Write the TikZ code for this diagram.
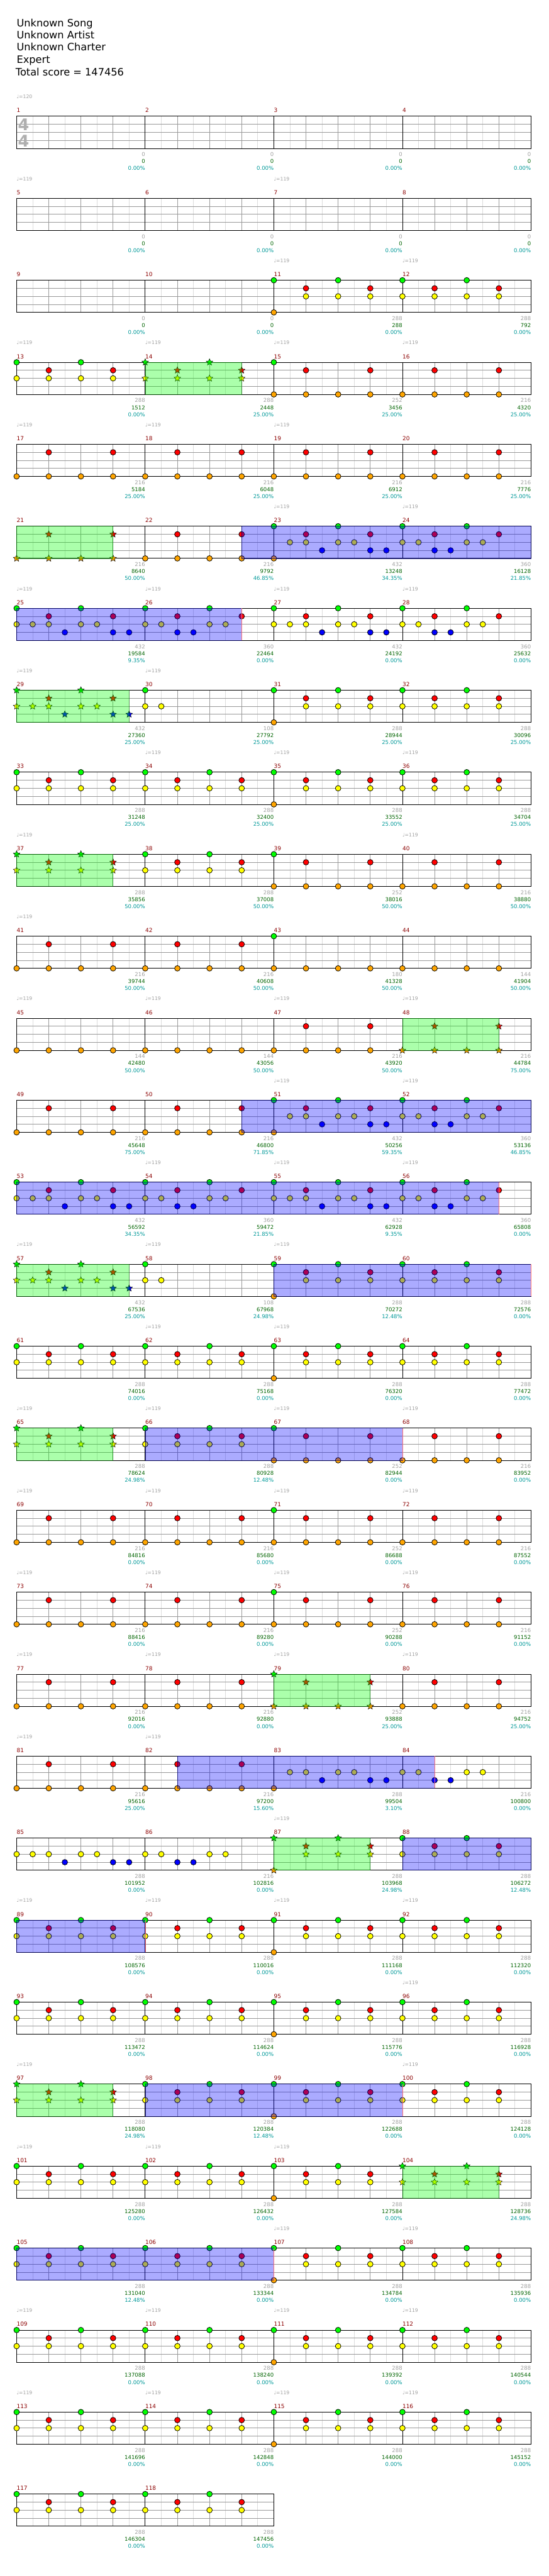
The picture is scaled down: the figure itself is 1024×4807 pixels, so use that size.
\documentclass[tikz,border=0pt]{standalone}
\usepackage{fontspec}
\setmainfont{DejaVu Sans}
\usepackage{tikz}
\usetikzlibrary{shapes.geometric}
\usepackage{xcolor}
\definecolor{fretG}{RGB}{0,255,0}
\definecolor{fretR}{RGB}{255,0,0}
\definecolor{fretY}{RGB}{255,255,0}
\definecolor{fretB}{RGB}{0,0,255}
\definecolor{fretO}{RGB}{255,165,0}
\definecolor{barred}{RGB}{140,0,0}
\definecolor{basegrey}{RGB}{160,160,160}
\definecolor{totgreen}{RGB}{0,100,0}
\definecolor{pctteal}{RGB}{0,153,153}
\definecolor{gridlite}{RGB}{220,220,220}
\definecolor{griddark}{RGB}{153,153,153}
\definecolor{sigrey}{RGB}{175,175,175}
\definecolor{spedge}{RGB}{0,110,0}
\definecolor{actedge}{RGB}{0,0,110}
\tikzset{
  gem/.style={draw=black,line width=0.9pt},
  spgem/.style={star,star points=5,star point ratio=2.2,minimum size=13pt,inner sep=0pt,draw=black,line width=0.6pt},
  staff/.style={draw=black,line width=1pt},
  eighthline/.style={draw=gridlite,line width=0.9pt},
  quarterline/.style={draw=griddark,line width=0.9pt},
  spzone/.style={fill=fretG,fill opacity=0.33,draw=spedge,draw opacity=0.6,line width=0.9pt},
  actzone/.style={fill=fretB,fill opacity=0.33,draw=actedge,draw opacity=0.7,line width=0.9pt},
  actend/.style={draw=red!55,line width=0.8pt}
}
% lane offsets (px below staff top)
\def\laneG{0}\def\laneR{15}\def\laneY{30}\def\laneB{45}\def\laneO{60}
% note patterns: fret/eighth
\def\patN{}
\def\patA{R/2,R/6,O/0,O/2,O/4,O/6}
\def\patB{G/0,R/2,R/6,O/0,O/2,O/4,O/6}
\def\patC{G/0,G/4,R/2,R/6,Y/0,Y/1,Y/2,Y/4,Y/5,B/3,B/6,B/7}
\def\patP{G/0,G/4,R/2,R/6,Y/1,Y/2,Y/4,Y/5,B/3,B/6,B/7,O/0}
\def\patD{G/0,G/4,R/2,R/6,Y/0,Y/1,Y/4,Y/5,B/2,B/3}
\def\patE{G/0,G/4,R/2,R/6,Y/0,Y/2,Y/4,Y/6}
\def\patF{G/0,G/4,R/2,R/6,Y/2,Y/4,Y/6,O/0}
\def\patG{G/0,O/0,O/2,O/4,O/6}
\def\patH{O/0,O/2,O/4,O/6}
\def\patI{Y/1,Y/2,Y/4,Y/5,B/3,B/6,B/7,O/0}
\def\patJ{Y/0,Y/1,Y/4,Y/5,B/2,B/3}
\def\patK{Y/0,Y/1,Y/2,Y/4,Y/5,B/3,B/6,B/7}
\def\patL{G/0,Y/0,Y/1}

\begin{document}
\begin{tikzpicture}[
  x=1pt,y=-1pt,
  header/.style={anchor=base west,inner sep=0pt,font=\fontsize{19}{23}\selectfont},
  barno/.style={anchor=base west,inner sep=0pt,font=\fontsize{10.5}{12}\selectfont,text=barred},
  tempo/.style={anchor=base west,inner sep=0pt,font=\fontsize{9}{11}\selectfont,text=basegrey},
  basescore/.style={anchor=base east,inner sep=0pt,font=\fontsize{10}{12}\selectfont,text=basegrey},
  totscore/.style={anchor=base east,inner sep=0pt,font=\fontsize{10}{12}\selectfont,text=totgreen},
  pctscore/.style={anchor=base east,inner sep=0pt,font=\fontsize{10}{12}\selectfont,text=pctteal},
  timesig/.style={inner sep=0pt,font=\fontsize{30}{30}\selectfont\bfseries,text=sigrey}
]
  \fill[white] (0,0) rectangle (1024,4807);
  \useasboundingbox (0,0) rectangle (1024,4807);

  % --- Header ---
  \node[header] (song)    at (31,50)  {Unknown Song};
  \node[header] (artist)  at (31,72)  {Unknown Artist};
  \node[header] (charter) at (31,95)  {Unknown Charter};
  \node[header] (level)   at (31,118) {Expert};
  \node[header] (total)   at (29,141) {Total score = 147456};

  % --- Measures: number/pattern/star power end/base/total/percent ---
  \foreach \mm/\patname/\spend/\basepts/\totpts/\pctval in {
    1/N/0/0/0/0.00, 2/N/0/0/0/0.00, 3/N/0/0/0/0.00, 4/N/0/0/0/0.00,
    5/N/0/0/0/0.00, 6/N/0/0/0/0.00, 7/N/0/0/0/0.00, 8/N/0/0/0/0.00,
    9/N/0/0/0/0.00, 10/N/0/0/0/0.00, 11/F/0/288/288/0.00, 12/E/0/288/792/0.00,
    13/E/0/288/1512/0.00, 14/E/6/288/2448/25.00, 15/B/0/252/3456/25.00, 16/A/0/216/4320/25.00,
    17/A/0/216/5184/25.00, 18/A/0/216/6048/25.00, 19/A/0/216/6912/25.00, 20/A/0/216/7776/25.00,
    21/A/6/216/8640/50.00, 22/A/0/216/9792/46.85, 23/P/0/432/13248/34.35, 24/D/0/360/16128/21.85,
    25/C/0/432/19584/9.35, 26/D/0/360/22464/0.00, 27/C/0/432/24192/0.00, 28/D/0/360/25632/0.00,
    29/C/7/432/27360/25.00, 30/L/0/108/27792/25.00, 31/F/0/288/28944/25.00, 32/E/0/288/30096/25.00,
    33/E/0/288/31248/25.00, 34/E/0/288/32400/25.00, 35/F/0/288/33552/25.00, 36/E/0/288/34704/25.00,
    37/E/6/288/35856/50.00, 38/E/0/288/37008/50.00, 39/B/0/252/38016/50.00, 40/A/0/216/38880/50.00,
    41/A/0/216/39744/50.00, 42/A/0/216/40608/50.00, 43/G/0/180/41328/50.00, 44/H/0/144/41904/50.00,
    45/H/0/144/42480/50.00, 46/H/0/144/43056/50.00, 47/A/0/216/43920/50.00, 48/A/6/216/44784/75.00,
    49/A/0/216/45648/75.00, 50/A/0/216/46800/71.85, 51/P/0/432/50256/59.35, 52/D/0/360/53136/46.85,
    53/C/0/432/56592/34.35, 54/D/0/360/59472/21.85, 55/C/0/432/62928/9.35, 56/D/0/360/65808/0.00,
    57/C/7/432/67536/25.00, 58/L/0/108/67968/24.98, 59/F/0/288/70272/12.48, 60/E/0/288/72576/0.00,
    61/E/0/288/74016/0.00, 62/E/0/288/75168/0.00, 63/F/0/288/76320/0.00, 64/E/0/288/77472/0.00,
    65/E/6/288/78624/24.98, 66/E/0/288/80928/12.48, 67/B/0/252/82944/0.00, 68/A/0/216/83952/0.00,
    69/A/0/216/84816/0.00, 70/A/0/216/85680/0.00, 71/B/0/252/86688/0.00, 72/A/0/216/87552/0.00,
    73/A/0/216/88416/0.00, 74/A/0/216/89280/0.00, 75/B/0/252/90288/0.00, 76/A/0/216/91152/0.00,
    77/A/0/216/92016/0.00, 78/A/0/216/92880/0.00, 79/B/6/252/93888/25.00, 80/A/0/216/94752/25.00,
    81/A/0/216/95616/25.00, 82/A/0/216/97200/15.60, 83/I/0/288/99504/3.10, 84/J/0/216/100800/0.00,
    85/K/0/288/101952/0.00, 86/J/0/216/102816/0.00, 87/F/6/288/103968/24.98, 88/E/0/288/106272/12.48,
    89/E/0/288/108576/0.00, 90/E/0/288/110016/0.00, 91/F/0/288/111168/0.00, 92/E/0/288/112320/0.00,
    93/E/0/288/113472/0.00, 94/E/0/288/114624/0.00, 95/F/0/288/115776/0.00, 96/E/0/288/116928/0.00,
    97/E/6/288/118080/24.98, 98/E/0/288/120384/12.48, 99/F/0/288/122688/0.00, 100/E/0/288/124128/0.00,
    101/E/0/288/125280/0.00, 102/E/0/288/126432/0.00, 103/F/0/288/127584/0.00, 104/E/6/288/128736/24.98,
    105/E/0/288/131040/12.48, 106/E/0/288/133344/0.00, 107/F/0/288/134784/0.00, 108/E/0/288/135936/0.00,
    109/E/0/288/137088/0.00, 110/E/0/288/138240/0.00, 111/F/0/288/139392/0.00, 112/E/0/288/140544/0.00,
    113/E/0/288/141696/0.00, 114/E/0/288/142848/0.00, 115/F/0/288/144000/0.00, 116/E/0/288/145152/0.00,
    117/E/0/288/146304/0.00, 118/E/0/288/147456/0.00} {
    \pgfmathtruncatemacro{\row}{(\mm-1)/4}
    \pgfmathtruncatemacro{\col}{\mm-1-4*\row}
    \pgfmathsetmacro{\mx}{31+240*\col}
    \pgfmathsetmacro{\my}{217+153*\row}
    % grid
    \foreach \p in {1,3,5,7} \draw[eighthline] (\mx+30*\p,\my) -- ++(0,60);
    \foreach \l in {15,30,45} \draw[quarterline] (\mx,\my+\l) -- ++(240,0);
    \foreach \p in {2,4,6} \draw[quarterline] (\mx+30*\p,\my) -- ++(0,60);
    \draw[staff] (\mx,\my) rectangle ++(240,60);
    % labels
    \node[barno] (bar\mm) at (\mx,\my-7) {\mm};
    \node[basescore] (base\mm) at (\mx+240,\my+75) {\basepts};
    \node[totscore] (tot\mm) at (\mx+240,\my+88) {\totpts};
    \node[pctscore] (pct\mm) at (\mx+240,\my+101) {\pctval\%};
    % notes
    \expandafter\let\expandafter\gemlist\csname pat\patname\endcsname
    \ifx\gemlist\empty\else
      \foreach \gemfret/\gempos in \gemlist {
        \edef\ly{\csname lane\gemfret\endcsname}
        \ifnum\spend>0
          \node[spgem,fill=fret\gemfret] at (\mx+30*\gempos,\my+\ly) {};
        \else
          \filldraw[gem,fill=fret\gemfret] (\mx+30*\gempos,\my+\ly) circle (5.2pt);
        \fi
      }
    \fi
    % star power phrase
    \ifnum\spend>0
      \draw[spzone] (\mx,\my) rectangle (\mx+30*\spend,\my+60);
    \fi
  }

  % --- Time signature ---
  \node[timesig] (sigtop) at (44,233) {4};
  \node[timesig] (sigbot) at (44,263) {4};

  % --- Tempo marks ---
  \node[tempo] (tempo1) at (31,184) {♩=120};
  \foreach \mm in {5,7,11,12,13,14,15,16,17,18,19,23,24,25,26,27,28,29,30,34,35,36,
    37,40,41,45,46,47,48,51,52,54,55,56,57,58,59,62,63,65,66,67,68,69,70,71,72,
    73,74,75,76,77,78,79,80,81,82,87,89,90,91,92,96,97,100,101,102,103,107,108,
    109,110,111,112,113,114,115,116} {
    \pgfmathtruncatemacro{\row}{(\mm-1)/4}
    \pgfmathtruncatemacro{\col}{\mm-1-4*\row}
    \node[tempo] (tempo\mm) at (31+240*\col,184+153*\row) {♩=119};
  }

  % --- Activation zones: start bar/eighth, end bar/eighth, closes ---
  \foreach \sm/\sa/\em/\eb/\fin in {22/6/24/8/0, 25/0/26/6/1, 50/6/52/8/0, 53/0/56/6/1,
    59/0/60/8/1, 66/0/67/8/1, 82/2/84/2/1, 88/0/88/8/0, 89/0/89/8/1, 98/0/99/8/1, 105/0/106/8/1} {
    \pgfmathtruncatemacro{\row}{(\sm-1)/4}
    \pgfmathtruncatemacro{\cs}{\sm-1-4*\row}
    \pgfmathtruncatemacro{\ce}{\em-1-4*\row}
    \pgfmathsetmacro{\xa}{31+240*\cs+30*\sa}
    \pgfmathsetmacro{\xb}{31+240*\ce+30*\eb}
    \pgfmathsetmacro{\ya}{217+153*\row}
    \draw[actzone] (\xa,\ya) rectangle (\xb,\ya+60);
    \ifnum\fin=1 \draw[actend] (\xb,\ya) -- (\xb,\ya+60); \fi
  }
\end{tikzpicture}
\end{document}
